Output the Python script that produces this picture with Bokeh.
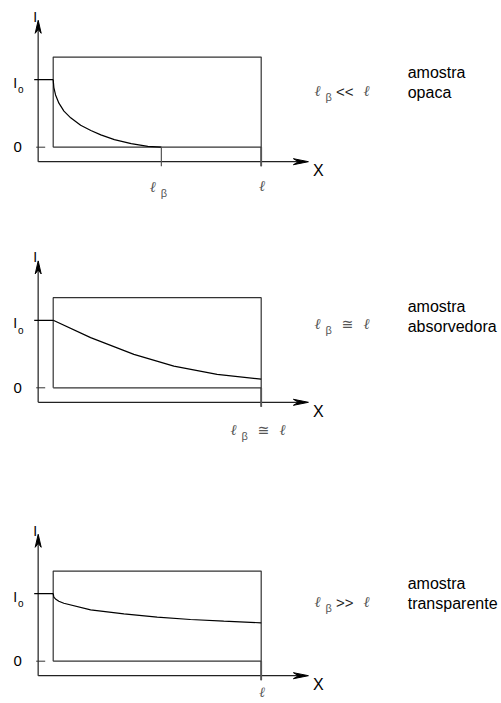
from bokeh.plotting import figure
from bokeh.layouts import column
from bokeh.core.properties import value
from bokeh.embed import file_html
from bokeh.resources import INLINE

# ---------------- data (depth in units of sample thickness ℓ, intensity in units of I0)
x_opaca = [0.0, 0.0032, 0.0113, 0.0275, 0.0517, 0.084, 0.132, 0.181, 0.229, 0.294, 0.375, 0.455, 0.52]
I_opaca = [1.0, 0.883, 0.774, 0.652, 0.535, 0.435, 0.326, 0.248, 0.183, 0.113, 0.052, 0.013, 0.0]
x_absorv = [0.0, 0.18, 0.388, 0.58, 0.788, 1.0]
I_absorv = [1.0, 0.743, 0.495, 0.322, 0.198, 0.129]
x_transp = [0.0, 0.003, 0.011, 0.027, 0.051, 0.18, 0.34, 0.50, 0.66, 0.82, 1.0]
I_transp = [1.0, 0.95, 0.922, 0.889, 0.858, 0.760, 0.701, 0.652, 0.618, 0.593, 0.569]
l_beta = [0.52, 1.0, None]
relations = ["<<", "\u2245", ">>"]
sample_names = ["opaca", "absorvedora", "transparente"]
y_ticks = ["I", "0"]

# ---------------- layout constants (pixels)
XS = 208.0   # px per unit depth
YS = 67.5    # px per unit intensity
W = 501
heights = [240, 265, 198]
zero_px = [146.7, 147.3, 155.7]
LEFT_PX = 52.7
RT = 1.335          # top of the sample box
YA = -15.0 / XS     # y-axis position
XA = -14.5 / YS     # x-axis position
YT = 1.88           # y-axis arrow tip
XT = 1.227          # x-axis arrow tip
TB = -19.0 / YS     # lower end of tick marks

AX = "#555555"
BOX = "#333333"
GR = "#555555"
SANS = value("Liberation Sans")
SERIF = value("Liberation Serif")
DJ = value("DejaVu Sans")


def dx(px):
    return px / XS


def dy(px):
    return -px / YS


def txt(p, x, y, s, size, font=SANS, style="normal", color="black", align="center"):
    p.text(x=[x], y=[y], text=[s], text_font=font, text_font_size=f"{size}px",
           text_font_style=style, text_color=color, text_align=align,
           text_baseline="middle")


def ell_beta(p, x, y, rel=None):
    # ℓβ [rel ℓ] starting at x (data), centred on y
    txt(p, x, y, "\u2113", 15, SERIF, "italic", GR)
    txt(p, x + dx(11), y + dy(6), "\u03b2", 11, SANS, "normal", GR)
    if rel is not None:
        if rel == "\u2245":
            txt(p, x + dx(30), y, rel, 14, DJ, "normal", GR)
            txt(p, x + dx(49), y, "\u2113", 15, SERIF, "italic", GR)
        else:
            txt(p, x + dx(27), y + dy(1), rel, 15, SANS, "normal", "#222222")
            txt(p, x + dx(49), y, "\u2113", 15, SERIF, "italic", GR)


curves = [(x_opaca, I_opaca), (x_absorv, I_absorv), (x_transp, I_transp)]
figs = []
for k in range(3):
    h = heights[k]
    z = zero_px[k]
    p = figure(width=W, height=h, output_backend="svg", toolbar_location=None,
               x_range=(-LEFT_PX / XS, (W - LEFT_PX) / XS),
               y_range=((z - h) / YS, z / YS),
               x_axis_location=None, y_axis_location=None, min_border=0)
    p.outline_line_color = None
    p.xgrid.visible = False
    p.ygrid.visible = False
    p.background_fill_color = "white"
    p.border_fill_color = "white"

    # axes
    p.line([YA, YA], [XA, YT - 9 / YS], line_color=AX, line_width=1.6)
    p.patch([YA, YA - dx(3), YA, YA + dx(3)],
            [YT, YT - 13 / YS, YT - 9 / YS, YT - 13 / YS], color="black")
    p.line([YA, XT - dx(10)], [XA, XA], line_color="#222222", line_width=1.3)
    p.patch([XT, XT - dx(15), XT - dx(10), XT - dx(15)],
            [XA, XA + 3 / YS, XA, XA - 3 / YS], color="black")

    # sample box
    p.line([0, 0, 1, 1], [0, RT, RT, TB], line_color=BOX, line_width=1.2)
    p.line([1, 1], [0, TB], line_color=AX, line_width=1.8)
    p.line([0, 1], [0, 0], line_color=BOX, line_width=1.2)

    # I0 and 0 ticks
    p.line([YA - dx(4), 0], [1, 1], line_color="black", line_width=1.2)
    p.line([YA - dx(2), YA + dx(7)], [0, 0], line_color=BOX, line_width=1.0)

    # curve
    cx, cy = curves[k]
    p.line(cx, cy, line_color="black", line_width=1.2)

    # beta-length tick (opaque case)
    if k == 0:
        p.line([l_beta[0], l_beta[0]], [0, TB], line_color=AX, line_width=1.2)

    # axis labels
    txt(p, YA - dx(3), YT + 3.5 / YS, y_ticks[0], 14)
    txt(p, -dx(38), 1 + dy(3), y_ticks[0], 14)
    txt(p, -dx(32.5), 1 + dy(10), "o", 10)
    txt(p, -dx(35.5), 0, y_ticks[1], 15)
    txt(p, XT + dx(10), XA + dy(9), "X", 16)

    # right-hand labels
    base_y = [0.84, 0.938, 0.884][k]
    ell_beta(p, dx(264.5), base_y, relations[k])
    txt(p, dx(354.5), base_y + 0.27, "amostra", 16, align="left")
    txt(p, dx(354.5), base_y + 0.27 - 20 / YS, sample_names[k], 16, align="left")

    # labels under the x axis
    if k == 0:
        ell_beta(p, l_beta[0] - dx(8.5), dy(40))
        txt(p, 1 + dx(1), dy(38.5), "\u2113", 15, SERIF, "italic", GR)
    elif k == 1:
        ell_beta(p, l_beta[1] - dx(27.5), dy(42), "\u2245")
    else:
        txt(p, 1 + dx(1), dy(31.5), "\u2113", 14, SERIF, "italic", GR)

    figs.append(p)

layout = column(*figs, spacing=0)
open("out.html", "w").write(file_html(layout, INLINE))
